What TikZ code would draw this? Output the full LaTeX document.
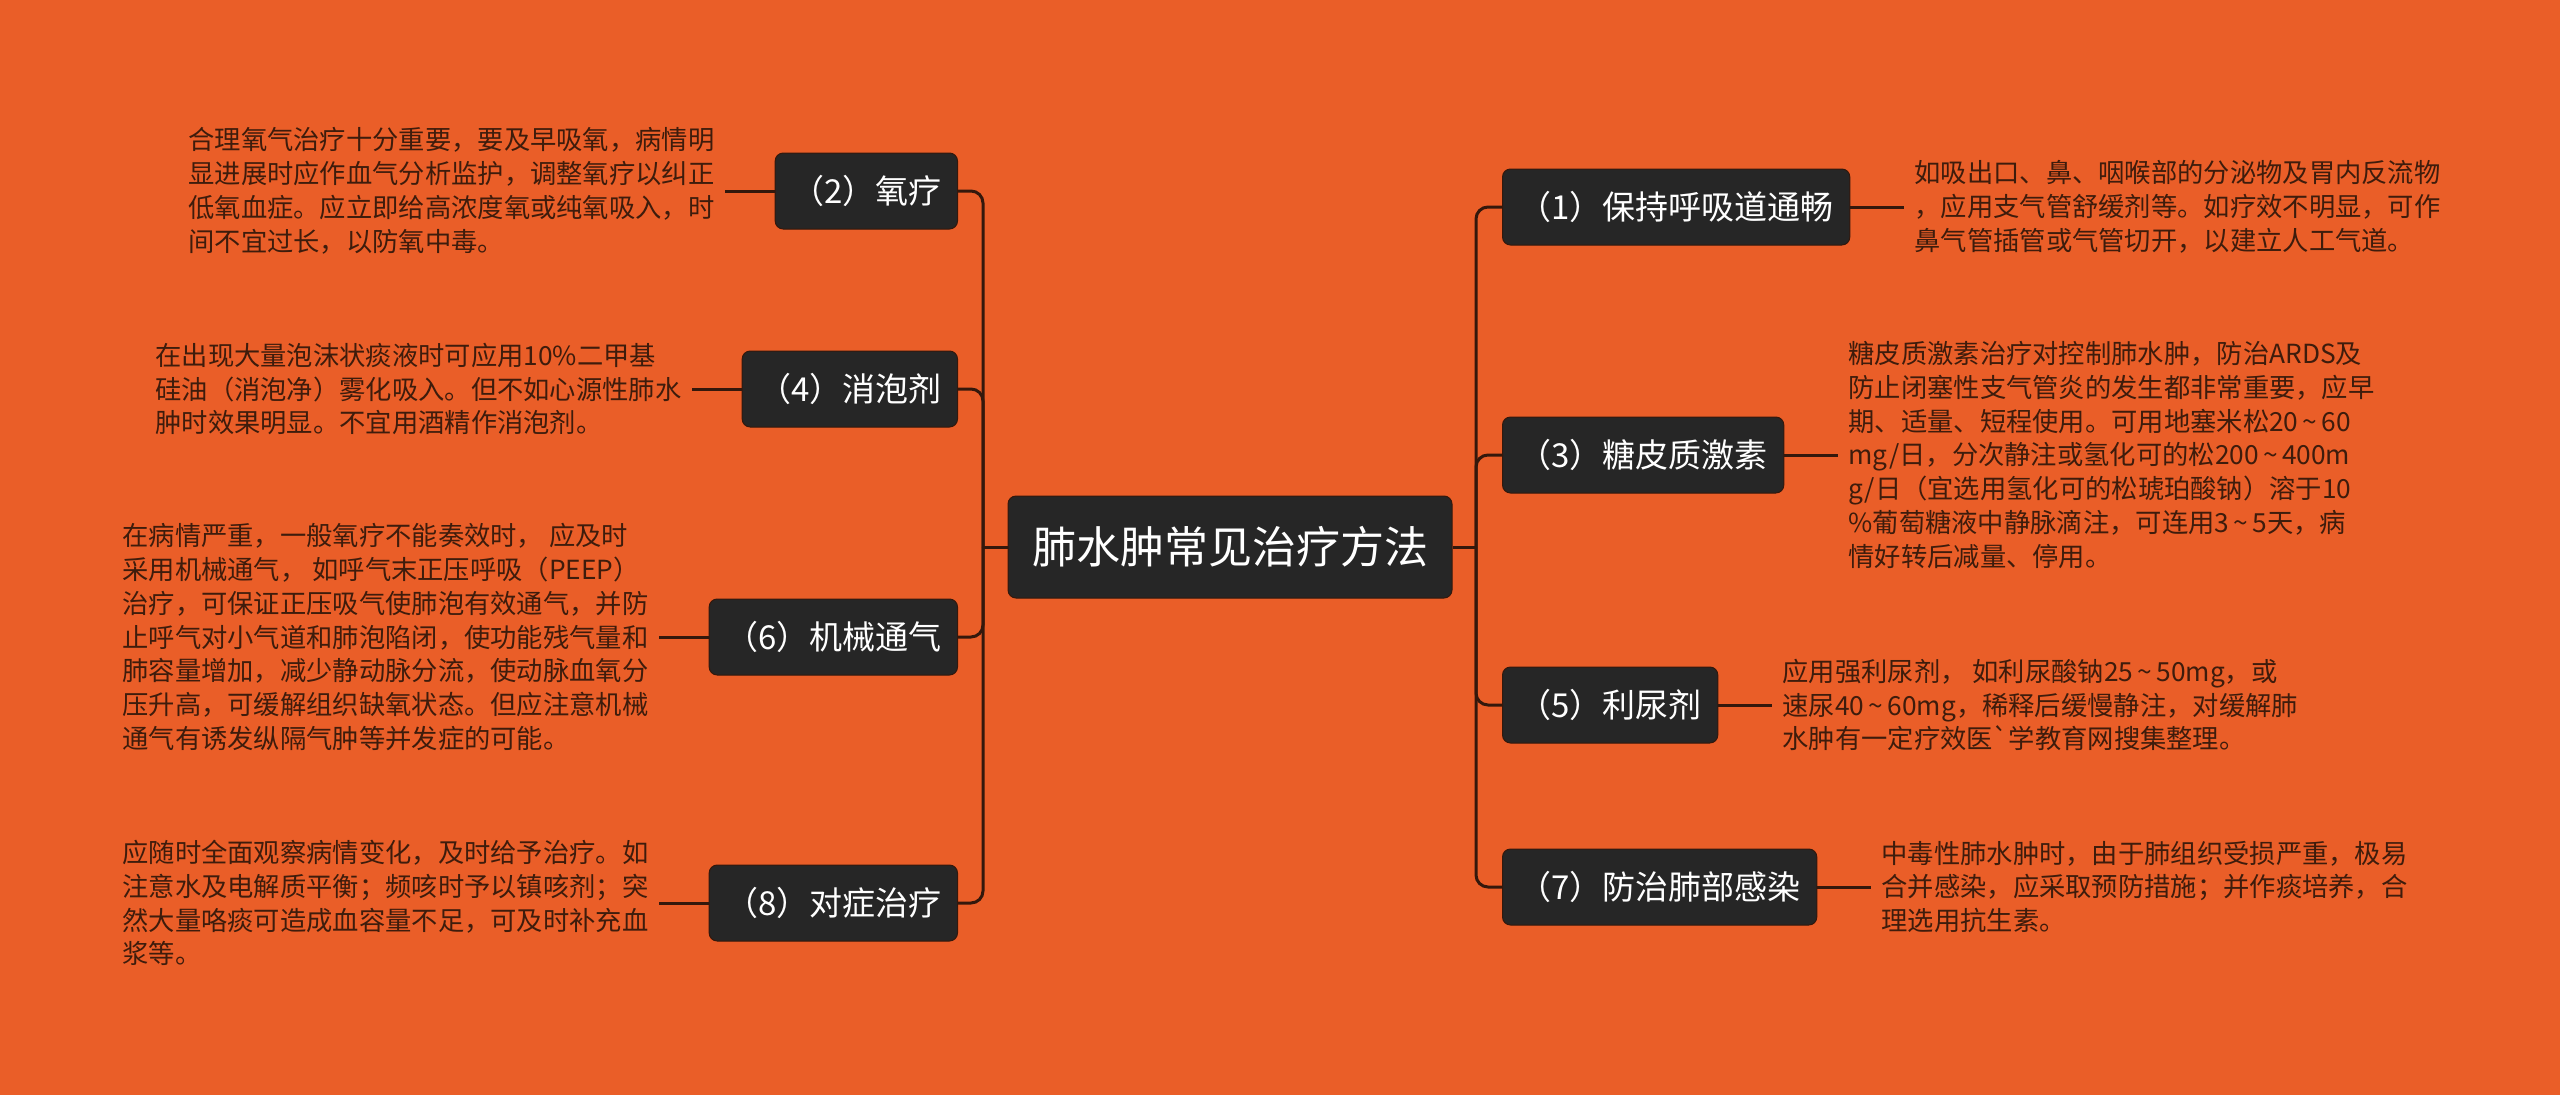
\documentclass[tikz,border=0pt]{standalone}
\usepackage{fontspec}
\setmainfont{Noto Sans CJK SC}
\newfontfamily\plainfont{Noto Sans CJK SC}
\usetikzlibrary{positioning}
\definecolor{bgorange}{RGB}{234,94,40}
\definecolor{nodedark}{RGB}{38,38,38}
\definecolor{linebrown}{RGB}{52,24,12}
\definecolor{textbrown}{RGB}{62,28,12}
\newcommand{\til}{\,\textasciitilde\,}
\newcommand{\notefont}{\fontsize{26.3}{33.8}\selectfont\setlength{\lineskiplimit}{-50pt}}

\begin{document}
\begin{tikzpicture}[x=1pt,y=-1pt,node distance=50pt,
  topic/.style={fill=nodedark,draw=linebrown,line width=1pt,rounded corners=8pt,text=white,font=\fontsize{33}{40}\selectfont,minimum height=76pt,inner xsep=16pt},
  rootbox/.style={topic,font=\fontsize{44}{52}\selectfont,minimum height=102pt,inner xsep=24pt},
  note/.style={text=textbrown,align=left,font=\notefont,inner xsep=10pt,inner ysep=0pt},
  branch/.style={draw=linebrown,line width=3pt,rounded corners=12pt},
  leaf/.style={draw=linebrown,line width=3pt}]
\fill[bgorange] (0,0) rectangle (2560,1095);
\useasboundingbox (0,0) rectangle (2560,1095);

\node[rootbox] (root) at (1230,547) {肺水肿常见治疗方法};
\coordinate (lj) at (983,547);
\coordinate (rj) at (1476,547);

\node[topic,anchor=east] (t2) at (958,191) {（2）氧疗};
\node[topic,anchor=east] (t4) at (958,389) {（4）消泡剂};
\node[topic,anchor=east] (t6) at (958,637) {（6）机械通气};
\node[topic,anchor=east] (t8) at (958,903) {（8）对症治疗};
\node[topic,anchor=west] (t1) at (1502,207) {（1）保持呼吸道通畅};
\node[topic,anchor=west] (t3) at (1502,455) {（3）糖皮质激素};
\node[topic,anchor=west] (t5) at (1502,705) {（5）利尿剂};
\node[topic,anchor=west] (t7) at (1502,887) {（7）防治肺部感染};

\node[note,left=of t2] (d2) {合理氧气治疗十分重要，要及早吸氧，病情明\\显进展时应作血气分析监护，调整氧疗以纠正\\低氧血症。应立即给高浓度氧或纯氧吸入，时\\间不宜过长，以防氧中毒。};
\node[note,left=of t4] (d4) {在出现大量泡沫状痰液时可应用10\%二甲基\\硅油（消泡净）雾化吸入。但不如心源性肺水\\肿时效果明显。不宜用酒精作消泡剂。};
\node[note,left=of t6] (d6) {在病情严重，一般氧疗不能奏效时， 应及时\\采用机械通气， 如呼气末正压呼吸（PEEP）\\治疗，可保证正压吸气使肺泡有效通气，并防\\止呼气对小气道和肺泡陷闭，使功能残气量和\\肺容量增加，减少静动脉分流，使动脉血氧分\\压升高，可缓解组织缺氧状态。但应注意机械\\通气有诱发纵隔气肿等并发症的可能。};
\node[note,left=of t8] (d8) {应随时全面观察病情变化，及时给予治疗。如\\注意水及电解质平衡；频咳时予以镇咳剂；突\\然大量咯痰可造成血容量不足，可及时补充血\\浆等。};
\node[note,right=54pt of t1] (d1) {如吸出口、鼻、咽喉部的分泌物及胃内反流物\\，应用支气管舒缓剂等。如疗效不明显，可作\\鼻气管插管或气管切开，以建立人工气道。};
\node[note,right=54pt of t3] (d3) {糖皮质激素治疗对控制肺水肿，防治ARDS及\\防止闭塞性支气管炎的发生都非常重要，应早\\期、适量、短程使用。可用地塞米松20\til60\\mg/日，分次静注或氢化可的松200\til400m\\g/日（宜选用氢化可的松琥珀酸钠）溶于10\\\%葡萄糖液中静脉滴注，可连用3\til5天，病\\情好转后减量、停用。};
\node[note,right=54pt of t5] (d5) {应用强利尿剂， 如利尿酸钠25\til50mg，或\\速尿40\til60mg，稀释后缓慢静注，对缓解肺\\水肿有一定疗效医{\plainfont`}学教育网搜集整理。};
\node[note,right=54pt of t7] (d7) {中毒性肺水肿时，由于肺组织受损严重，极易\\合并感染，应采取预防措施；并作痰培养，合\\理选用抗生素。};

\draw[leaf] (root.west) -- (lj);
\draw[leaf] (root.east) -- (rj);
\foreach \t in {t2,t4,t6,t8} \draw[branch] (lj) |- (\t.east);
\foreach \t in {t1,t3,t5,t7} \draw[branch] (rj) |- (\t.west);
\foreach \t/\d in {t2/d2,t4/d4,t6/d6,t8/d8,t1/d1,t3/d3,t5/d5,t7/d7} \draw[leaf] (\t) -- (\d);
\end{tikzpicture}
\end{document}
